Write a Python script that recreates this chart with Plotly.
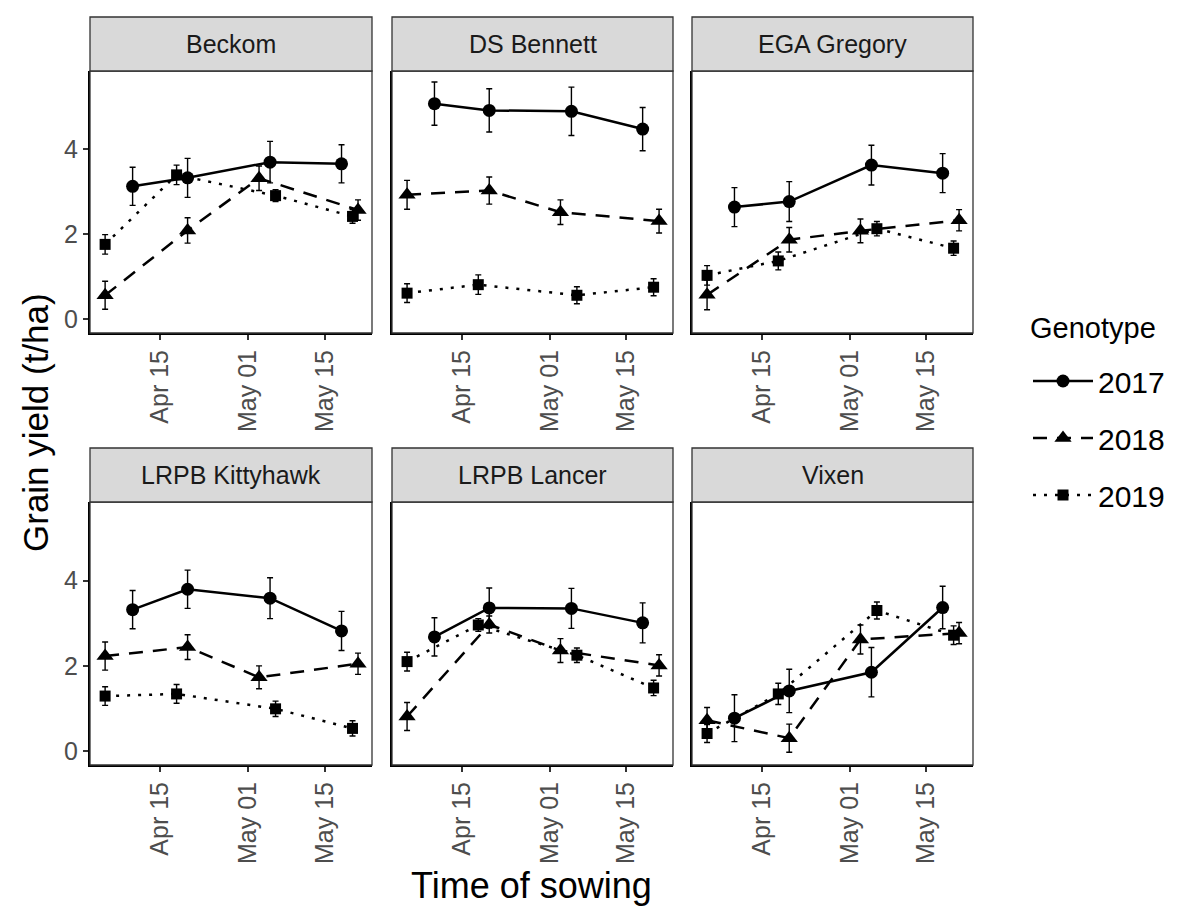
import plotly.graph_objects as go

cultivars = ["Beckom", "DS Bennett", "EGA Gregory", "LRPB Kittyhawk", "LRPB Lancer", "Vixen"]
years = ["2017", "2018", "2019"]

# sowing dates per season (common dummy year so all seasons share one axis)
sow_2017 = ["2021-04-10", "2021-04-20", "2021-05-05", "2021-05-18"]
sow_2018 = ["2021-04-05", "2021-04-20", "2021-05-03", "2021-05-21"]
sow_2019 = ["2021-04-05", "2021-04-18", "2021-05-06", "2021-05-20"]

# grain yield (t/ha), one list per cultivar in the order above
yield_2017 = [
    [3.13, 3.33, 3.70, 3.66],
    [5.08, 4.92, 4.90, 4.48],
    [2.64, 2.77, 3.63, 3.44],
    [3.32, 3.80, 3.59, 2.82],
    [2.68, 3.36, 3.35, 3.01],
    [0.77, 1.41, 1.85, 3.37],
]
se_2017 = [
    [0.45, 0.46, 0.49, 0.45],
    [0.51, 0.51, 0.57, 0.51],
    [0.46, 0.47, 0.47, 0.46],
    [0.45, 0.45, 0.48, 0.46],
    [0.45, 0.47, 0.47, 0.47],
    [0.55, 0.51, 0.58, 0.50],
]
yield_2018 = [
    [0.56, 2.09, 3.32, 2.57],
    [2.93, 3.03, 2.52, 2.31],
    [0.57, 1.87, 2.08, 2.33],
    [2.23, 2.44, 1.73, 2.05],
    [0.81, 2.97, 2.36, 2.01],
    [0.72, 0.30, 2.62, 2.77],
]
se_2018 = [
    [0.33, 0.30, 0.29, 0.24],
    [0.34, 0.32, 0.29, 0.28],
    [0.35, 0.29, 0.28, 0.25],
    [0.33, 0.29, 0.27, 0.25],
    [0.33, 0.20, 0.28, 0.25],
    [0.30, 0.33, 0.34, 0.25],
]
yield_2019 = [
    [1.76, 3.40, 2.91, 2.42],
    [0.61, 0.81, 0.56, 0.75],
    [1.03, 1.37, 2.13, 1.67],
    [1.29, 1.34, 0.99, 0.53],
    [2.10, 2.96, 2.25, 1.48],
    [0.41, 1.34, 3.30, 2.72],
]
se_2019 = [
    [0.23, 0.23, 0.14, 0.16],
    [0.22, 0.23, 0.20, 0.20],
    [0.23, 0.21, 0.17, 0.17],
    [0.22, 0.22, 0.18, 0.18],
    [0.22, 0.15, 0.17, 0.18],
    [0.21, 0.25, 0.20, 0.22],
]

tick_dates = ["2021-04-15", "2021-05-01", "2021-05-15"]
tick_labels = ["Apr 15", "May 01", "May 15"]
y_ticks = [0, 2, 4]

# the page body has an 8px margin, so the figure is a bit smaller than the window
OFF = 8
W, H = 1200 - 2 * OFF, 923 - 2 * OFF
FONT = "Liberation Sans, Arial, sans-serif"


def px(x):
    return (x - OFF) / W


def py(y):
    return 1 - (y - OFF) / H


# panel positions in window pixels
col_px = [(90, 372), (392, 673), (692, 973)]
row_px = [(71, 333), (502, 765)]
strip_px = [(17, 71), (448, 502)]

series = [
    ("2017", sow_2017, yield_2017, se_2017, "circle", "solid", 13),
    ("2018", sow_2018, yield_2018, se_2018, "triangle-up", "14px,10px", 15),
    ("2019", sow_2019, yield_2019, se_2019, "square", "3px,8px", 11),
]

fig = go.Figure()
for i, name in enumerate(cultivars):
    ax = "" if i == 0 else str(i + 1)
    for year, dates, vals, errs, sym, dash, msize in series:
        fig.add_trace(go.Scatter(
            x=dates, y=vals[i],
            mode="lines+markers",
            name=year,
            legendgroup=year,
            showlegend=(i == 0),
            line=dict(color="black", width=2.5, dash=dash),
            marker=dict(symbol=sym, size=msize, color="black"),
            error_y=dict(type="data", array=errs[i], color="black",
                         thickness=1.4, width=3),
            xaxis="x" + ax, yaxis="y" + ax,
        ))

layout = {}
shapes = []
annotations = []
for i, name in enumerate(cultivars):
    r, c = divmod(i, 3)
    ax = "" if i == 0 else str(i + 1)
    x0, x1 = col_px[c]
    top, bot = row_px[r]
    layout["xaxis" + ax] = dict(
        type="date",
        domain=[px(x0), px(x1)],
        range=["2021-04-02 06:00", "2021-05-23 13:00"],
        tickvals=tick_dates, ticktext=tick_labels,
        tickangle=-90, ticks="outside", ticklen=5, tickwidth=1.5,
        tickcolor="#333333",
        tickfont=dict(size=25, color="#4D4D4D", family=FONT),
        showgrid=False, zeroline=False,
        showline=True, linecolor="black", linewidth=2,
        anchor="y" + ax,
    )
    layout["yaxis" + ax] = dict(
        domain=[py(bot), py(top)],
        range=[-0.33, 5.85],
        tickvals=y_ticks,
        showticklabels=(c == 0),
        ticks="outside" if c == 0 else "",
        ticklen=5, tickwidth=1.5, tickcolor="#333333",
        tickfont=dict(size=25, color="#4D4D4D", family=FONT),
        showgrid=False, zeroline=False,
        showline=True, linecolor="black", linewidth=2,
        anchor="x" + ax,
    )
    # panel border
    shapes.append(dict(type="rect", xref="paper", yref="paper",
                       x0=px(x0), x1=px(x1), y0=py(bot), y1=py(top),
                       line=dict(color="#333333", width=1.3), layer="above"))
    # strip
    s0, s1 = strip_px[r]
    shapes.append(dict(type="rect", xref="paper", yref="paper",
                       x0=px(x0), x1=px(x1), y0=py(s1), y1=py(s0),
                       fillcolor="#D9D9D9",
                       line=dict(color="#333333", width=1.3)))
    annotations.append(dict(text=name, xref="paper", yref="paper",
                            x=px((x0 + x1) / 2), y=py((s0 + s1) / 2),
                            xanchor="center", yanchor="middle",
                            showarrow=False,
                            font=dict(size=25, color="#1A1A1A", family=FONT)))

annotations.append(dict(text="Grain yield (t/ha)", textangle=-90,
                        xref="paper", yref="paper", x=px(35), y=py(423),
                        xanchor="center", yanchor="middle",
                        showarrow=False,
                        font=dict(size=35, color="black", family=FONT)))
annotations.append(dict(text="Time of sowing",
                        xref="paper", yref="paper", x=px(531), y=py(885),
                        xanchor="center", yanchor="middle",
                        showarrow=False,
                        font=dict(size=36, color="black", family=FONT)))
annotations.append(dict(text="Genotype",
                        xref="paper", yref="paper", x=px(1028), y=py(328),
                        xanchor="left", yanchor="middle",
                        showarrow=False,
                        font=dict(size=29, color="black", family=FONT)))

fig.update_layout(
    **layout,
    shapes=shapes,
    annotations=annotations,
    width=W, height=H,
    margin=dict(l=0, r=0, t=0, b=0),
    plot_bgcolor="white", paper_bgcolor="white",
    font=dict(family=FONT, color="black"),
    legend=dict(
        x=px(1028), y=py(355), xanchor="left", yanchor="top",
        font=dict(size=30),
        itemwidth=60,
        tracegroupgap=15,
        bgcolor="rgba(0,0,0,0)",
    ),
)

fig.write_html("out.html")
